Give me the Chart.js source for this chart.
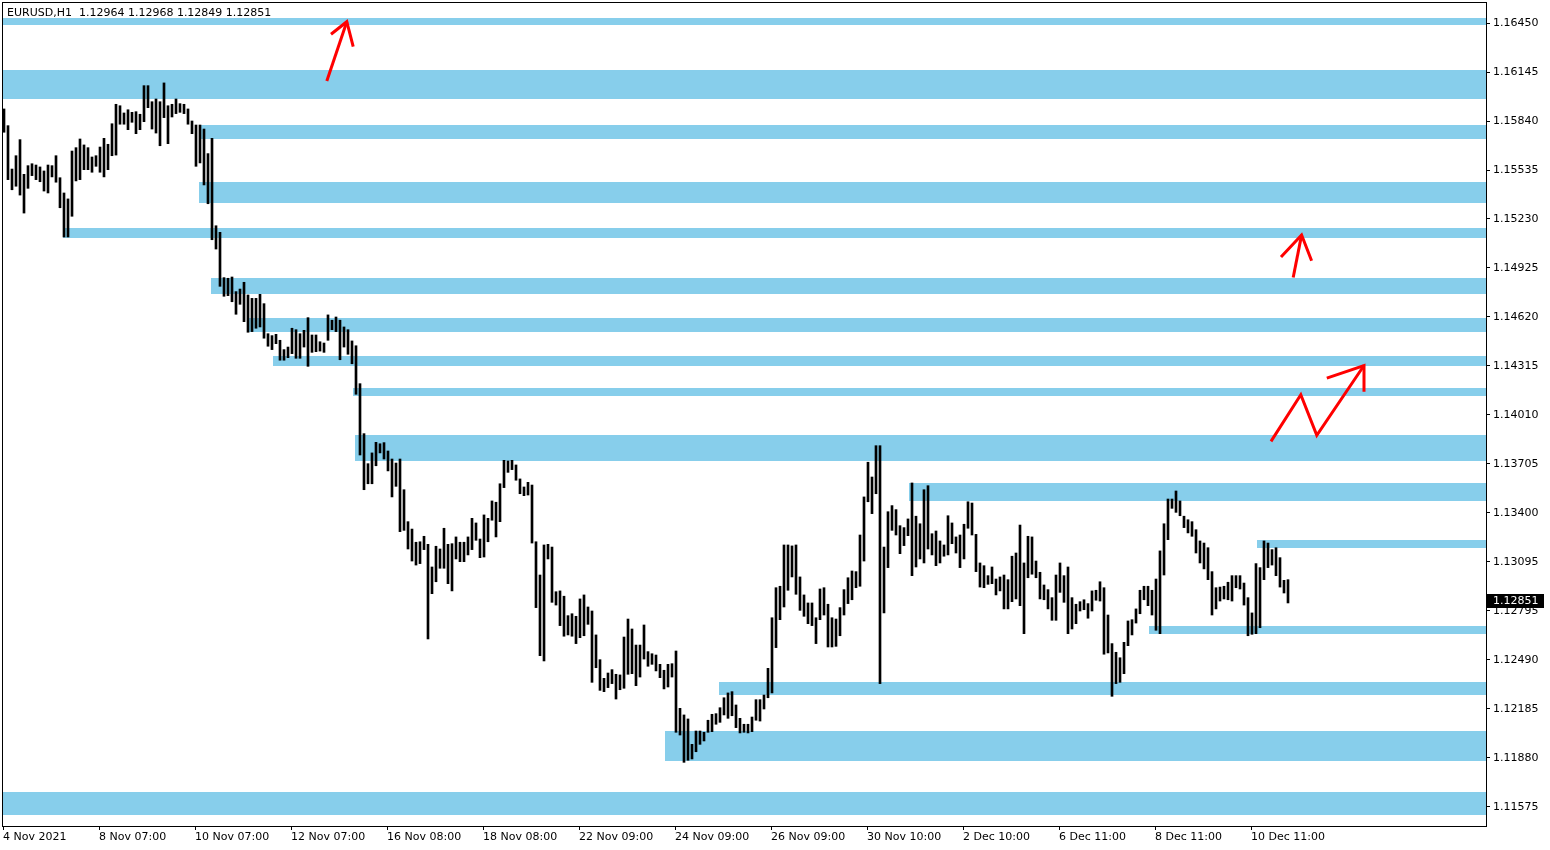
<!DOCTYPE html>
<html>
<head>
<meta charset="utf-8">
<title>EURUSD,H1</title>
<script src="https://cdn.jsdelivr.net/npm/chart.js@4.4.1/dist/chart.umd.min.js"></script>
<style>
  html, body { margin: 0; padding: 0; background: #fff; }
  canvas { display: block; }
</style>
</head>
<body>
<canvas id="chart" width="1550" height="850"></canvas>
<script>
const symbol = 'EURUSD,H1';
const lastBar = [1.12964, 1.12968, 1.12849, 1.12851]; // open, high, low, close

const xLabels = ['4 Nov 2021', '8 Nov 07:00', '10 Nov 07:00', '12 Nov 07:00', '16 Nov 08:00', '18 Nov 08:00',
  '22 Nov 09:00', '24 Nov 09:00', '26 Nov 09:00', '30 Nov 10:00', '2 Dec 10:00', '6 Dec 11:00',
  '8 Dec 11:00', '10 Dec 11:00'];

const yLabels = ['1.16450', '1.16145', '1.15840', '1.15535', '1.15230', '1.14925', '1.14620', '1.14315',
  '1.14010', '1.13705', '1.13400', '1.13095', '1.12795', '1.12490', '1.12185', '1.11880', '1.11575'];
const yTop = 1.16450;
const yStep = 0.00305;

// bar highs / lows (two hours per bar)
const highs = [
  1.15915, 1.15811, 1.15541, 1.15624, 1.15724, 1.15508, 1.15562, 1.15574, 1.15566, 1.15554,
  1.15529, 1.15566, 1.15562, 1.15624, 1.15487, 1.15392, 1.15355, 1.15653, 1.15674, 1.15728,
  1.15691, 1.15674, 1.15616, 1.15624, 1.15678, 1.15732, 1.15695, 1.15823, 1.15944, 1.15935,
  1.15890, 1.15910, 1.15894, 1.15898, 1.15882, 1.16060, 1.16060, 1.15960, 1.15977, 1.15960,
  1.16077, 1.15935, 1.15944, 1.15977, 1.15948, 1.15944, 1.15915, 1.15840, 1.15815, 1.15815,
  1.15790, 1.15637, 1.15732, 1.15188, 1.15147, 1.14865, 1.14861, 1.14869, 1.14778, 1.14794,
  1.14836, 1.14757, 1.14736, 1.14736, 1.14761, 1.14703, 1.14516, 1.14504, 1.14512, 1.14475,
  1.14417, 1.14433, 1.14550, 1.14541, 1.14516, 1.14537, 1.14616, 1.14508, 1.14508, 1.14466,
  1.14458, 1.14633, 1.14600, 1.14620, 1.14600, 1.14558, 1.14541, 1.14471, 1.14441, 1.14205,
  1.13894, 1.13707, 1.13774, 1.13840, 1.13831, 1.13838, 1.13786, 1.13736, 1.13711, 1.13736,
  1.13545, 1.13346, 1.13300, 1.13218, 1.13221, 1.13255, 1.13205, 1.13064, 1.13193, 1.13176,
  1.13305, 1.13205, 1.13209, 1.13251, 1.13218, 1.13218, 1.13251, 1.13367, 1.13338, 1.13238,
  1.13388, 1.13367, 1.13475, 1.13467, 1.13582, 1.13728, 1.13724, 1.13728, 1.13699, 1.13612,
  1.13562, 1.13591, 1.13574, 1.13221, 1.13014, 1.13201, 1.13205, 1.13188, 1.12910, 1.12915,
  1.12882, 1.12761, 1.12773, 1.12757, 1.12865, 1.12890, 1.12815, 1.12790, 1.12641, 1.12487,
  1.12371, 1.12404, 1.12425, 1.12396, 1.12392, 1.12628, 1.12740, 1.12678, 1.12578, 1.12578,
  1.12703, 1.12537, 1.12524, 1.12516, 1.12458, 1.12421, 1.12458, 1.12462, 1.12541, 1.12184,
  1.12143, 1.12118, 1.11960, 1.12043, 1.12043, 1.12035, 1.12110, 1.12147, 1.12151, 1.12188,
  1.12250, 1.12280, 1.12288, 1.12205, 1.12122, 1.12085, 1.12085, 1.12130, 1.12238, 1.12238,
  1.12267, 1.12433, 1.12748, 1.12935, 1.12944, 1.13201, 1.13201, 1.13195, 1.13201, 1.13002,
  1.12890, 1.12840, 1.12840, 1.12748, 1.12927, 1.12935, 1.12832, 1.12748, 1.12740, 1.12811,
  1.12923, 1.12997, 1.13039, 1.13035, 1.13263, 1.13500, 1.13716, 1.13624, 1.13819, 1.13819,
  1.13188, 1.13408, 1.13446, 1.13421, 1.13321, 1.13309, 1.13363, 1.13587, 1.13380, 1.13333,
  1.13545, 1.13570, 1.13271, 1.13288, 1.13226, 1.13201, 1.13383, 1.13338, 1.13251, 1.13263,
  1.13330, 1.13470, 1.13462, 1.13267, 1.13089, 1.13072, 1.13010, 1.13064, 1.12989, 1.13002,
  1.13014, 1.12985, 1.13131, 1.13151, 1.13325, 1.13089, 1.13255, 1.13251, 1.13101, 1.13031,
  1.12952, 1.12923, 1.12873, 1.13014, 1.13089, 1.13010, 1.13064, 1.12873, 1.12832, 1.12848,
  1.12860, 1.12836, 1.12915, 1.12919, 1.12972, 1.12935, 1.12765, 1.12587, 1.12533, 1.12499,
  1.12595, 1.12728, 1.12736, 1.12803, 1.12919, 1.12944, 1.12944, 1.12919, 1.12989, 1.13164,
  1.13333, 1.13487, 1.13487, 1.13537, 1.13475, 1.13380, 1.13358, 1.13346, 1.13296, 1.13226,
  1.13213, 1.13184, 1.13035, 1.12935, 1.12939, 1.12944, 1.12969, 1.13010, 1.13010, 1.13010,
  1.12964, 1.12873, 1.12778, 1.13085, 1.13060, 1.13226, 1.13213, 1.13172, 1.13184, 1.13122, 1.12981, 1.12985
];
const lows = [
  1.15770, 1.15475, 1.15412, 1.15434, 1.15379, 1.15267, 1.15421, 1.15500, 1.15475, 1.15462,
  1.15404, 1.15392, 1.15492, 1.15459, 1.15300, 1.15118, 1.15118, 1.15247, 1.15467, 1.15475,
  1.15537, 1.15537, 1.15521, 1.15558, 1.15521, 1.15492, 1.15537, 1.15624, 1.15628, 1.15820,
  1.15820, 1.15786, 1.15832, 1.15761, 1.15786, 1.15836, 1.15923, 1.15790, 1.15765, 1.15686,
  1.15861, 1.15699, 1.15865, 1.15886, 1.15894, 1.15886, 1.15820, 1.15761, 1.15558, 1.15579,
  1.15442, 1.15325, 1.15101, 1.15043, 1.14811, 1.14749, 1.14753, 1.14715, 1.14637, 1.14699,
  1.14591, 1.14525, 1.14529, 1.14550, 1.14558, 1.14488, 1.14438, 1.14417, 1.14454, 1.14351,
  1.14351, 1.14367, 1.14392, 1.14363, 1.14363, 1.14433, 1.14313, 1.14400, 1.14404, 1.14408,
  1.14400, 1.14475, 1.14541, 1.14529, 1.14354, 1.14433, 1.14388, 1.14329, 1.14139, 1.13761,
  1.13545, 1.13582, 1.13582, 1.13694, 1.13774, 1.13736, 1.13662, 1.13500, 1.13566, 1.13284,
  1.13292, 1.13176, 1.13101, 1.13076, 1.13085, 1.13172, 1.12616, 1.12898, 1.12972, 1.13056,
  1.13056, 1.12960, 1.12915, 1.13114, 1.13097, 1.13097, 1.13139, 1.13172, 1.13230, 1.13122,
  1.13126, 1.13221, 1.13355, 1.13251, 1.13346, 1.13558, 1.13653, 1.13670, 1.13604, 1.13520,
  1.13508, 1.13512, 1.13213, 1.12811, 1.12512, 1.12479, 1.13114, 1.12844, 1.12827, 1.12699,
  1.12633, 1.12641, 1.12633, 1.12587, 1.12624, 1.12636, 1.12707, 1.12346, 1.12437, 1.12296,
  1.12288, 1.12313, 1.12338, 1.12242, 1.12300, 1.12309, 1.12396, 1.12400, 1.12325, 1.12379,
  1.12491, 1.12446, 1.12458, 1.12417, 1.12375, 1.12305, 1.12317, 1.12379, 1.12035, 1.12018,
  1.11848, 1.11861, 1.11869, 1.11914, 1.11960, 1.11981, 1.12035, 1.12039, 1.12085, 1.12097,
  1.12143, 1.12122, 1.12138, 1.12064, 1.12031, 1.12035, 1.12031, 1.12039, 1.12110, 1.12105,
  1.12180, 1.12250, 1.12280, 1.12562, 1.12736, 1.12815, 1.12919, 1.13002, 1.12894, 1.12794,
  1.12757, 1.12711, 1.12699, 1.12587, 1.12736, 1.12765, 1.12566, 1.12566, 1.12570, 1.12636,
  1.12765, 1.12836, 1.12860, 1.12935, 1.12944, 1.13101, 1.13470, 1.13396, 1.13520, 1.12338,
  1.12778, 1.13060, 1.13292, 1.13263, 1.13147, 1.13197, 1.13259, 1.13010, 1.13064, 1.13114,
  1.13089, 1.13176, 1.13139, 1.13072, 1.13089, 1.13131, 1.13139, 1.13209, 1.13151, 1.13060,
  1.13114, 1.13305, 1.13263, 1.13035, 1.12939, 1.12935, 1.12956, 1.12960, 1.12890, 1.12915,
  1.12803, 1.12803, 1.12848, 1.12865, 1.12823, 1.12649, 1.12997, 1.13019, 1.12997, 1.12865,
  1.12860, 1.12803, 1.12732, 1.12732, 1.12906, 1.12844, 1.12649, 1.12678, 1.12711, 1.12790,
  1.12798, 1.12745, 1.12790, 1.12857, 1.12852, 1.12521, 1.12529, 1.12259, 1.12338, 1.12346,
  1.12400, 1.12574, 1.12641, 1.12715, 1.12773, 1.12860, 1.12823, 1.12765, 1.12670, 1.12649,
  1.13014, 1.13234, 1.13429, 1.13404, 1.13383, 1.13309, 1.13276, 1.13255, 1.13151, 1.13089,
  1.13052, 1.12985, 1.12765, 1.12803, 1.12852, 1.12865, 1.12860, 1.12852, 1.12935, 1.12927,
  1.12827, 1.12636, 1.12645, 1.12649, 1.12686, 1.12985, 1.13060, 1.13076, 1.13010, 1.12939, 1.12902, 1.12840
];

// support / resistance zones: first bar, upper price, lower price
const zoneStart = [-0.25, -0.25, 49, 48.75, 14.75, 51.75, 60.75, 67.25, 87.25, 87.75, 226.25, 313.25, 286.25, 178.75, 165.25, -0.25];
const zoneTop = [1.16481, 1.16157, 1.15815, 1.15460, 1.15174, 1.14863, 1.14614, 1.14377, 1.14178, 1.13886, 1.13587, 1.13232, 1.12697, 1.12348, 1.12043, 1.11663];
const zoneBottom = [1.16438, 1.15977, 1.15728, 1.15330, 1.15112, 1.14763, 1.14527, 1.14315, 1.14128, 1.13724, 1.13475, 1.13182, 1.12647, 1.12267, 1.11856, 1.11520];

// hand drawn arrows, [bar, price] points
const arrows = [
  { shaft: [[80.7, 1.16089], [85.7, 1.16458]], head: [[81.75, 1.16380], [85.7, 1.16458], [87.3, 1.16303]] },
  { shaft: [[322.3, 1.14866], [324.4, 1.15131]], head: [[319.25, 1.14993], [324.4, 1.15131], [326.9, 1.14970]] },
  { shaft: [[316.75, 1.13846], [324.2, 1.14136], [328.2, 1.13883], [340, 1.14318]], head: [[330.7, 1.14240], [340, 1.14318], [340, 1.14155]] }
];

Chart.defaults.font.family = 'DejaVu Sans';
Chart.defaults.font.size = 11;
Chart.defaults.color = '#000';

const zones = {
  id: 'zones',
  beforeDatasetsDraw(chart) {
    const { ctx, chartArea: a, scales: { x, y } } = chart;
    ctx.save();
    ctx.fillStyle = '#87ceeb';
    zoneTop.forEach((top, i) => {
      const left = Math.max(a.left, Math.round(x.getPixelForValue(zoneStart[i])));
      const t = Math.round(y.getPixelForValue(top));
      const b = Math.round(y.getPixelForValue(zoneBottom[i]));
      ctx.fillRect(left, t, a.right - left, b - t);
    });
    ctx.restore();
  }
};

const marks = {
  id: 'marks',
  afterDatasetsDraw(chart) {
    const { ctx, scales: { x, y } } = chart;
    ctx.save();
    ctx.strokeStyle = '#ff0000';
    ctx.lineWidth = 3;
    arrows.forEach(a => {
      [a.shaft, a.head].forEach(pts => {
        ctx.beginPath();
        pts.forEach(([v, p], k) => {
          const px = x.getPixelForValue(v), py = y.getPixelForValue(p);
          if (k) ctx.lineTo(px, py); else ctx.moveTo(px, py);
        });
        ctx.stroke();
      });
    });
    ctx.restore();
  },
  afterDraw(chart) {
    const { ctx, chartArea: a, scales: { y } } = chart;
    ctx.save();
    ctx.strokeStyle = '#000';
    ctx.lineWidth = 1;
    ctx.strokeRect(a.left - 0.5, a.top - 0.5, a.right - a.left + 1, a.bottom - a.top + 1);

    ctx.font = '11px "DejaVu Sans"';
    ctx.fillStyle = '#000';
    ctx.textBaseline = 'alphabetic';
    ctx.fillText(symbol + '  ' + lastBar.map(v => v.toFixed(5)).join(' '), 7, 16);

    const py = Math.round(y.getPixelForValue(lastBar[3]));
    ctx.fillRect(a.right + 1, py - 7, 57, 14);
    ctx.fillStyle = '#fff';
    ctx.textBaseline = 'middle';
    ctx.fillText(lastBar[3].toFixed(5), a.right + 7, py + 0.5);
    ctx.restore();
  }
};

new Chart(document.getElementById('chart'), {
  type: 'bar',
  data: {
    datasets: [{
      data: highs.map((h, i) => ({ x: i, y: [lows[i], h] })),
      backgroundColor: '#000',
      borderWidth: 0,
      barThickness: 2,
      grouped: false
    }]
  },
  options: {
    responsive: false,
    devicePixelRatio: 1,
    animation: false,
    events: [],
    layout: { padding: { left: 3, top: 3, right: 0, bottom: 0 } },
    plugins: { legend: { display: false }, tooltip: { enabled: false } },
    scales: {
      x: {
        type: 'linear',
        min: -0.25,
        max: 370.5,
        offset: false,
        bounds: 'data',
        grid: { display: true, offset: false, drawOnChartArea: false, drawTicks: true, tickLength: 4, color: '#000' },
        border: { display: true, color: '#000' },
        ticks: {
          autoSkip: false, maxRotation: 0, minRotation: 0, align: 'start', padding: 1,
          callback: (v, i) => xLabels[i]
        },
        afterBuildTicks: s => { s.ticks = xLabels.map((_, k) => ({ value: k * 24 - 0.25 })); },
        afterFit: s => { s.height = 24; s.paddingLeft = 0; s.paddingRight = 0; }
      },
      y: {
        type: 'linear',
        position: 'right',
        min: 1.114517,
        max: 1.165745,
        bounds: 'data',
        grid: { display: true, drawOnChartArea: false, drawTicks: true, tickLength: 4, color: '#000' },
        border: { display: true, color: '#000' },
        ticks: { autoSkip: false, padding: 3, callback: (v, i) => yLabels[i] },
        afterBuildTicks: s => { s.ticks = yLabels.map((_, k) => ({ value: yTop - k * yStep })); },
        afterFit: s => { s.width = 64; s.paddingTop = 0; s.paddingBottom = 0; }
      }
    }
  },
  plugins: [zones, marks]
});
</script>
</body>
</html>
